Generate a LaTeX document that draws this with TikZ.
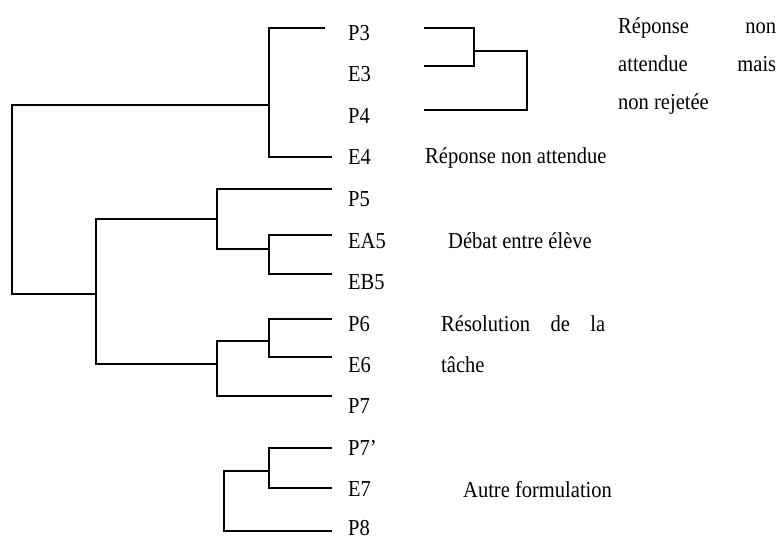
\documentclass[tikz,border=0pt]{standalone}
\usepackage{fontspec}
\setmainfont[FakeStretch=0.9]{Liberation Serif}
\begin{document}
\begin{tikzpicture}[x=1pt,y=-1pt,
  lbl/.style={anchor=base west,inner sep=0pt,font=\fontsize{22.8}{26}\selectfont},
  br/.style={line width=1.3pt,line cap=rect}]
\useasboundingbox (0,0) rectangle (777,541);
% leaf labels
\node[lbl] (P3)  at (348,40)  {P3};
\node[lbl] (E3)  at (348,81)  {E3};
\node[lbl] (P4)  at (348,123) {P4};
\node[lbl] (E4)  at (348,164) {E4};
\node[lbl] (P5)  at (348,206) {P5};
\node[lbl] (EA5) at (348,248) {EA5};
\node[lbl] (EB5) at (348,289) {EB5};
\node[lbl] (P6)  at (348,331) {P6};
\node[lbl] (E6)  at (348,372) {E6};
\node[lbl] (P7)  at (348,413) {P7};
\node[lbl] (P7b) at (348,455) {P7’};
\node[lbl] (E7)  at (348,496) {E7};
\node[lbl] (P8)  at (348,535) {P8};
% annotations
\node[lbl] (t1a) at (618,33)  {\hbox to 158pt{Réponse\hfill non}};
\node[lbl] (t1b) at (618,71)  {\hbox to 158pt{attendue\hfill mais}};
\node[lbl] (t1c) at (618,109) {non rejetée};
\node[lbl] (t2)  at (425,163) {Réponse non attendue};
\node[lbl] (t3)  at (448,248) {Débat entre élève};
\node[lbl] (t4a) at (441,331) {\hbox to 164pt{Résolution\hfill de\hfill la}};
\node[lbl] (t4b) at (441,372) {tâche};
\node[lbl] (t5)  at (463,497) {Autre formulation};
% leaf line ends
\coordinate (lP3)  at (324,28);
\coordinate (lE4)  at (331,157);
\coordinate (lP5)  at (331,189);
\coordinate (lEA5) at (331,235);
\coordinate (lEB5) at (331,274);
\coordinate (lP6)  at (331,319);
\coordinate (lE6)  at (331,357);
\coordinate (lP7)  at (331,396);
\coordinate (lP7b) at (331,448);
\coordinate (lE7)  at (331,488);
\coordinate (lP8)  at (331,531);
% junctions
\coordinate (jA) at (269,105);
\coordinate (jR) at (12,294);
\coordinate (jB) at (96,294);
\coordinate (jC) at (217,219);
\coordinate (jD) at (217,364);
\coordinate (jE) at (269,249);
\coordinate (jF) at (269,341);
\coordinate (jG) at (269,471);
\coordinate (jH) at (224,500);
% dendrogram
\draw[br] (lP3) -| (jA) |- (lE4);
\draw[br] (jA) -| (jR) -- (jB);
\draw[br] (jC) -| (jB) |- (jD);
\draw[br] (lP5) -| (jC) |- (jE);
\draw[br] (lEA5) -| (jE) |- (lEB5);
\draw[br] (jF) -| (jD) |- (lP7);
\draw[br] (lP6) -| (jF) |- (lE6);
\draw[br] (lP7b) -| (jG) |- (lE7);
\draw[br] (jG) -| (jH) |- (lP8);
% right bracket
\coordinate (bP3) at (425,28);
\coordinate (bE3) at (425,66);
\coordinate (bP4) at (425,110);
\coordinate (bJ) at (474,51);
\coordinate (bK) at (527,80);
\draw[br] (bP3) -| (bJ) |- (bE3);
\draw[br] (bJ) -| (bK) |- (bP4);
\end{tikzpicture}
\end{document}
